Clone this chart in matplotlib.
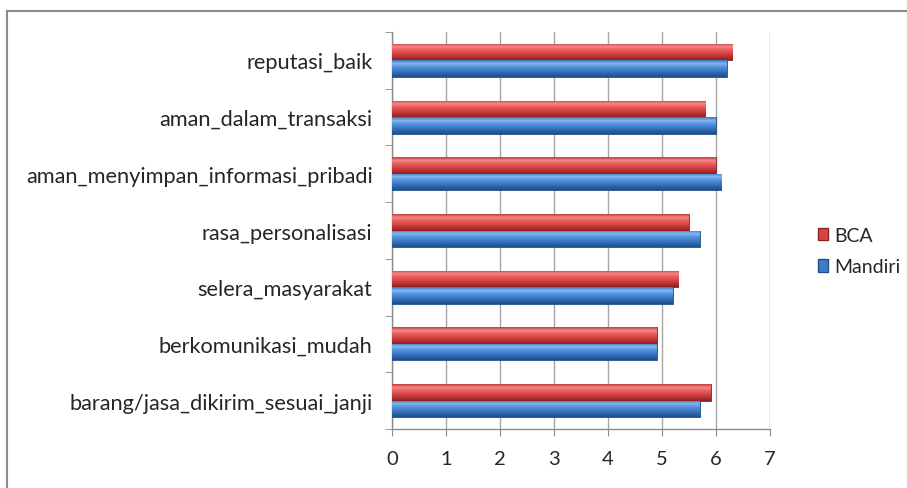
import numpy as np
import matplotlib
matplotlib.use("Agg")
import matplotlib.pyplot as plt
from matplotlib.colors import LinearSegmentedColormap
from matplotlib.patches import Patch
from matplotlib.lines import Line2D

# Data (bottom to top)
categories = [
    "barang/jasa_dikirim_sesuai_janji",
    "berkomunikasi_mudah",
    "selera_masyarakat",
    "rasa_personalisasi",
    "aman_menyimpan_informasi_pribadi",
    "aman_dalam_transaksi",
    "reputasi_baik",
]
mandiri = [5.7, 4.9, 5.2, 5.7, 6.1, 6.0, 6.2]
bca = [5.9, 4.9, 5.3, 5.5, 6.0, 5.8, 6.3]
x_ticks = [0, 1, 2, 3, 4, 5, 6, 7]

plt.rcParams["font.family"] = ["Lato", "DejaVu Sans"]

fig = plt.figure(figsize=(9.07, 4.89), dpi=100)
ax = fig.add_axes([392 / 907, 59 / 489, 378 / 907, 397 / 489])

y = np.arange(len(categories))
h = 0.29

red_cmap = LinearSegmentedColormap.from_list(
    "red3d", ["#8e1f1f", "#b83232", "#d94545", "#ea5b5b", "#f48a8a", "#c63c3c"])
blue_cmap = LinearSegmentedColormap.from_list(
    "blue3d", ["#1f4f8c", "#2d64a8", "#3f7ccb", "#5592dc", "#86b8ee", "#3a74bf"])

bars_m = ax.barh(y - h / 2, mandiri, height=h, color="#3f7ccb",
                 edgecolor="#264f86", linewidth=0.6, zorder=3)
bars_b = ax.barh(y + h / 2, bca, height=h, color="#d94545",
                 edgecolor="#8a2424", linewidth=0.6, zorder=3)

grad = np.linspace(0, 1, 64).reshape(-1, 1)
for bars, cmap in ((bars_m, blue_cmap), (bars_b, red_cmap)):
    for bar in bars:
        x0, y0 = bar.get_x(), bar.get_y()
        w, hh = bar.get_width(), bar.get_height()
        im = ax.imshow(grad, extent=[x0, x0 + w, y0, y0 + hh], origin="lower",
                       cmap=cmap, aspect="auto", zorder=3.5, interpolation="bilinear")
        im.set_clip_path(bar)

ax.set_xlim(0, 7)
ax.set_ylim(-0.5, len(categories) - 0.5)
ax.set_xticks(x_ticks)
ax.set_xticklabels([str(t) for t in x_ticks])
ax.set_yticks(y)
ax.set_yticklabels(categories)
ax.set_yticks(np.arange(-0.5, len(categories), 1.0), minor=True)

ax.xaxis.grid(True, color="#a6a6a6", linewidth=1.0, zorder=0)
ax.set_axisbelow(True)
for side in ("top", "right"):
    ax.spines[side].set_visible(False)
for side in ("left", "bottom"):
    ax.spines[side].set_color("#8c8c8c")
    ax.spines[side].set_linewidth(1.0)

ax.tick_params(axis="y", which="major", length=0, pad=14, labelsize=15.7,
               labelcolor="#262626")
ax.tick_params(axis="y", which="minor", length=5, color="#8c8c8c", direction="out")
ax.tick_params(axis="x", length=5, color="#8c8c8c", direction="out", pad=10,
               labelsize=14.5, labelcolor="#262626")

handles = [
    Patch(facecolor="#d94545", edgecolor="#8a2424", label="BCA"),
    Patch(facecolor="#3f7ccb", edgecolor="#264f86", label="Mandiri"),
]
fig.legend(handles=handles, loc="center left", bbox_to_anchor=(810 / 907, 1 - 252 / 489),
           frameon=False, fontsize=14, handlelength=0.55, handleheight=0.6,
           handletextpad=0.3, labelspacing=0.75, borderaxespad=0,
           labelcolor="#262626")

# outer chart frame
fig.add_artist(Line2D([7 / 907, 1.0], [1 - 12 / 489, 1 - 12 / 489],
                      color="#8c8c8c", linewidth=1.5, transform=fig.transFigure))
fig.add_artist(Line2D([7 / 907, 7 / 907], [0.0, 1 - 12 / 489],
                      color="#8c8c8c", linewidth=1.5, transform=fig.transFigure))

fig.savefig("out.png", dpi=100, facecolor="white")
